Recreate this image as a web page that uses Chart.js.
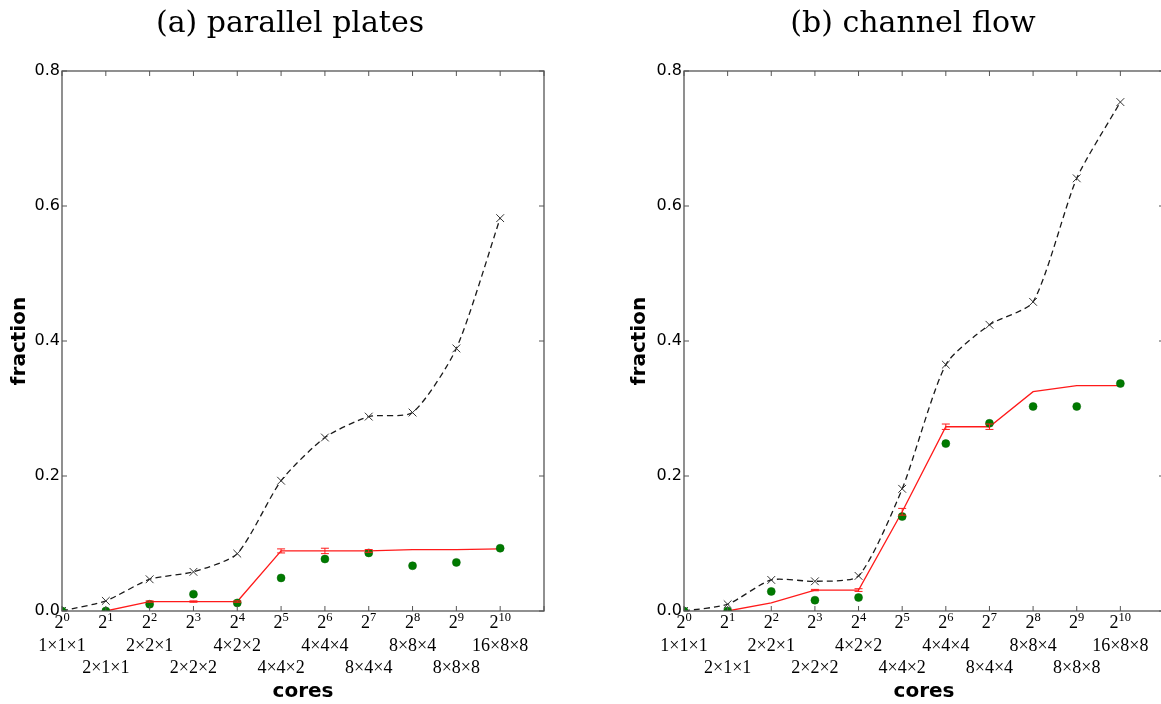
<!DOCTYPE html>
<html>
<head>
<meta charset="utf-8">
<script src="https://cdn.jsdelivr.net/npm/chart.js@4/dist/chart.umd.min.js"></script>
<style>
  body { margin: 0; background: #fff; overflow: hidden; width: 1161px; height: 704px; position: relative; }
  .panel { position: absolute; top: 0; height: 704px; }
  #plates { left: 0; width: 580px; }
  #channel { left: 620px; width: 586px; }
</style>
</head>
<body>
<div class="panel" id="plates"><canvas id="platesChart"></canvas></div>
<div class="panel" id="channel"><canvas id="channelChart"></canvas></div>
<script>
// x positions are powers of two: 2^0 .. 2^10 cores
const exponents = [0, 1, 2, 3, 4, 5, 6, 7, 8, 9, 10];
const decomps = ['1×1×1', '2×1×1', '2×2×1', '2×2×2', '4×2×2', '4×4×2',
                 '4×4×4', '8×4×4', '8×8×4', '8×8×8', '16×8×8'];
const yTicks = [0, 0.2, 0.4, 0.6, 0.8];

// (a) parallel plates
const platesBound    = [0, 0.015, 0.047, 0.058, 0.085, 0.193, 0.257, 0.288, 0.294, 0.389, 0.582];
const platesModel    = [null, 0, 0.014, 0.014, 0.014, 0.089, 0.089, 0.089, 0.091, 0.091, 0.092];
const platesModelErr = [0, 0, 0.001, 0.001, 0.001, 0.003, 0.004, 0.002, 0, 0, 0];
const platesObserved = [0, 0, 0.010, 0.025, 0.012, 0.049, 0.077, 0.086, 0.067, 0.072, 0.093];

// (b) channel flow
const channelBound    = [0, 0.010, 0.046, 0.044, 0.052, 0.181, 0.365, 0.424, 0.458, 0.641, 0.754];
const channelModel    = [null, 0, 0.012, 0.031, 0.031, 0.147, 0.273, 0.273, 0.325, 0.334, 0.334];
const channelModelErr = [0, 0, 0, 0.001, 0.002, 0.005, 0.004, 0.004, 0, 0, 0];
const channelObserved = [0, 0, 0.029, 0.016, 0.020, 0.140, 0.248, 0.278, 0.303, 0.303, 0.337];

const points = vals => exponents.map((e, i) => ({ x: e, y: vals[i] }));

const SERIF = "'Liberation Serif', 'DejaVu Serif', serif";
const TITLE_SERIF = "'DejaVu Serif', serif";
const SANS = "'DejaVu Sans', sans-serif";

// vertical error bars with caps, taken from dataset.errors
const errorBars = {
  id: 'errorBars',
  afterDatasetsDraw(chart) {
    const { ctx, scales: { x, y } } = chart;
    chart.data.datasets.forEach(ds => {
      if (!ds.errors) return;
      ctx.save();
      ctx.strokeStyle = ds.borderColor;
      ctx.lineWidth = 1;
      ctx.beginPath();
      ds.data.forEach((p, i) => {
        const e = ds.errors[i];
        if (p.y == null || !e) return;
        const px = x.getPixelForValue(p.x);
        const top = y.getPixelForValue(p.y + e);
        const bot = y.getPixelForValue(p.y - e);
        ctx.moveTo(px, top); ctx.lineTo(px, bot);
        ctx.moveTo(px - 4, top); ctx.lineTo(px + 4, top);
        ctx.moveTo(px - 4, bot); ctx.lineTo(px + 4, bot);
      });
      ctx.stroke();
      ctx.restore();
    });
  }
};

// box around the plot with small inward ticks on all four sides
const frame = {
  id: 'frame',
  afterDatasetsDraw(chart) {
    const { ctx, chartArea: a, scales: { x, y } } = chart;
    ctx.save();
    ctx.strokeStyle = '#555';
    ctx.lineWidth = 1.3;
    ctx.strokeRect(a.left, a.top, a.right - a.left, a.bottom - a.top);
    ctx.lineWidth = 1;
    ctx.beginPath();
    x.ticks.forEach(t => {
      const px = x.getPixelForValue(t.value);
      ctx.moveTo(px, a.top); ctx.lineTo(px, a.top + 5);
      ctx.moveTo(px, a.bottom); ctx.lineTo(px, a.bottom - 5);
    });
    y.ticks.forEach(t => {
      const py = y.getPixelForValue(t.value);
      ctx.moveTo(a.left, py); ctx.lineTo(a.left + 5, py);
      ctx.moveTo(a.right, py); ctx.lineTo(a.right - 5, py);
    });
    ctx.stroke();
    ctx.restore();
  }
};

// "2^n" under each x tick, with a real raised exponent
const powerLabels = {
  id: 'powerLabels',
  afterDraw(chart) {
    const { ctx, chartArea: a, scales: { x } } = chart;
    ctx.save();
    ctx.fillStyle = '#000';
    ctx.textBaseline = 'alphabetic';
    ctx.textAlign = 'left';
    exponents.forEach(e => {
      const px = x.getPixelForValue(e);
      const exp = String(e);
      ctx.font = `18px ${SERIF}`;
      const wBase = ctx.measureText('2').width;
      ctx.font = `12.5px ${SERIF}`;
      const wExp = ctx.measureText(exp).width;
      const left = px - (wBase + wExp) / 2;
      const base = a.bottom + 17;
      ctx.font = `18px ${SERIF}`;
      ctx.fillText('2', left, base);
      ctx.font = `12.5px ${SERIF}`;
      ctx.fillText(exp, left + wBase, base - 7);
    });
    ctx.restore();
  }
};

function makeChart(id, title, bound, model, modelErr, observed, yWidth, rightGap) {
  return new Chart(document.getElementById(id), {
    type: 'scatter',
    data: {
      datasets: [
        {
          data: points(observed),
          showLine: false,
          pointStyle: 'circle',
          pointRadius: 4,
          backgroundColor: '#007a00',
          borderColor: '#006400',
          borderWidth: 0.5
        },
        {
          data: points(model),
          errors: modelErr,
          showLine: true,
          borderColor: '#ff1a1a',
          borderWidth: 1.3,
          pointRadius: 0,
          tension: 0
        },
        {
          data: points(bound),
          showLine: true,
          borderColor: '#1a1a1a',
          borderWidth: 1.3,
          borderDash: [6, 4],
          tension: 0.22,
          pointStyle: 'crossRot',
          pointRadius: 5.5,
          pointBorderColor: '#333',
          pointBorderWidth: 1
        }
      ]
    },
    options: {
      responsive: true,
      maintainAspectRatio: false,
      animation: false,
      layout: { padding: 0 },
      plugins: {
        legend: { display: false },
        tooltip: { enabled: false },
        title: {
          display: true,
          text: title,
          color: '#000',
          font: { family: TITLE_SERIF, size: 30, weight: 'normal', lineHeight: 1.2 },
          padding: { top: 6, bottom: 29 }
        }
      },
      scales: {
        x: {
          type: 'linear',
          min: 0,
          max: 11,
          grid: { display: false, drawTicks: false },
          border: { display: false },
          afterFit(scale) { scale.height = 93; },
          ticks: {
            stepSize: 1,
            autoSkip: false,
            maxRotation: 0,
            padding: 3,
            color: '#000',
            font: { family: SERIF, size: 18, lineHeight: 1.2 },
            callback(v) {
              if (v > 10) return '';
              return v % 2 === 0 ? [' ', decomps[v]] : [' ', ' ', decomps[v]];
            }
          },
          title: {
            display: true,
            text: 'cores',
            color: '#000',
            font: { family: SANS, size: 20, weight: 'bold', lineHeight: 1.2 },
            padding: { top: 0, bottom: 0 }
          }
        },
        y: {
          min: yTicks[0],
          max: yTicks[yTicks.length - 1],
          grid: { display: false, drawTicks: false },
          border: { display: false },
          afterFit(scale) { scale.width = yWidth; },
          afterBuildTicks(scale) { scale.ticks = yTicks.map(v => ({ value: v })); },
          ticks: {
            padding: 2,
            color: '#000',
            font: { family: SANS, size: 16 },
            callback: v => v.toFixed(1)
          },
          title: {
            display: true,
            text: 'fraction',
            color: '#000',
            font: { family: SANS, size: 20, weight: 'bold', lineHeight: 1.2 },
            padding: { top: 8, bottom: 0 }
          }
        },
        // empty strip on the right so the title stays centred on the whole panel
        gap: {
          type: 'linear',
          position: 'right',
          grid: { display: false, drawTicks: false },
          border: { display: false },
          ticks: { display: false },
          afterFit(scale) { scale.width = rightGap; }
        }
      }
    },
    plugins: [errorBars, frame, powerLabels]
  });
}

makeChart('platesChart', '(a) parallel plates',
  platesBound, platesModel, platesModelErr, platesObserved, 62, 36);
makeChart('channelChart', '(b) channel flow',
  channelBound, channelModel, channelModelErr, channelObserved, 64, 42);
</script>
</body>
</html>
